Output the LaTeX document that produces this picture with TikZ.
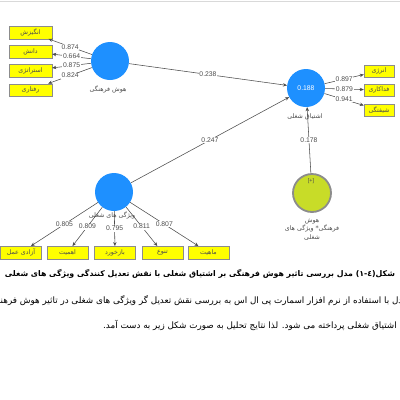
\documentclass[tikz,border=0pt]{standalone}
\usepackage{fontspec}
\setmainfont{Liberation Sans}
\newfontfamily\fafont[Script=Arabic]{DejaVu Sans}
\TeXXeTstate=1
\usetikzlibrary{arrows.meta}
\newcommand{\fa}[1]{{\fafont\beginR #1\endR}}
\definecolor{plsblue}{RGB}{30,144,255}
\definecolor{plsgreen}{RGB}{200,220,40}
\definecolor{plsyellow}{RGB}{255,255,0}
\tikzset{
  indbox/.style={rectangle,draw=black!45,fill=plsyellow,minimum width=41pt,
                 minimum height=12.5pt,inner sep=0pt,font=\fontsize{6.3}{7}\selectfont,text=black!70},
  latent/.style={circle,fill=plsblue,minimum size=38pt,inner sep=0pt},
  plsarrow/.style={draw=black!70,line width=0.55pt,-{Stealth[length=4pt,width=3.4pt]}},
  coef/.style={fill=white,inner sep=0.6pt,font=\fontsize{6.8}{7}\selectfont,text=black!70},
  lvlabel/.style={font=\fontsize{6.3}{8.5}\selectfont,text=black!70,align=center,inner sep=0pt}
}
\begin{document}
\begin{tikzpicture}[x=1pt,y=-1pt]
  \useasboundingbox (0,0) rectangle (400,400);
  \clip (0,0) rectangle (400,400);
  \fill[white] (0,0) rectangle (400,400);
  \draw[black!15,line width=1.5pt] (0,1.5) -- (400,1.5);

  % latent variables
  \node[latent] (cq) at (110,61) {};
  \node[lvlabel] (cqlab) at (108,89) {\fa{هوش فرهنگی}};
  \node[latent] (je) at (306,88) {};
  \node[font=\fontsize{6.8}{7}\selectfont,text=white] (jeval) at (je) {0.188};
  \node[lvlabel] (jelab) at (305,117) {\fa{اشتیاق شغلی}};
  \node[latent] (jc) at (114,192) {};
  \node[lvlabel] (jclab) at (112,215) {\fa{ویژگی های شغلی}};
  \node[circle,fill=plsgreen,draw=black!45,line width=1.8pt,minimum size=38pt,inner sep=0pt]
        (mod) at (312,193) {};
  \node[font=\fontsize{5.5}{5.5}\selectfont,text=black!70] (modsign) at (311,181) {[+]};
  \node[lvlabel] (modlab) at (312,229.5) {\fa{هوش}\\ \fa{فرهنگی* ویژگی های}\\ \fa{شغلی}};

  % indicators of cultural intelligence
  \node[indbox,minimum width=43pt] (cq1) at (30.5,32.5) {\fa{انگیزش}};
  \node[indbox,minimum width=43pt] (cq2) at (30.5,51.5) {\fa{دانش}};
  \node[indbox,minimum width=43pt] (cq3) at (30.5,70.5) {\fa{استراتژی}};
  \node[indbox,minimum width=43pt] (cq4) at (30.5,90)   {\fa{رفتاری}};
  % indicators of job engagement
  \node[indbox,minimum width=30pt] (je1) at (379,71)  {\fa{انرژی}};
  \node[indbox,minimum width=30pt] (je2) at (379,90)  {\fa{فداکاری}};
  \node[indbox,minimum width=30pt] (je3) at (379,110) {\fa{شیفتگی}};
  % indicators of job characteristics
  \node[indbox] (jc1) at (21,252.5)    {\fa{آزادی عمل}};
  \node[indbox] (jc2) at (67.5,252.5)  {\fa{اهمیت}};
  \node[indbox] (jc3) at (115,252.5)   {\fa{بازخورد}};
  \node[indbox] (jc4) at (162.5,252.5) {\fa{تنوع}};
  \node[indbox] (jc5) at (208.5,252.5) {\fa{ماهیت}};

  % outer loadings
  \draw[plsarrow] (cq) -- (cq1) node[coef,pos=0.5]{0.874};
  \draw[plsarrow] (cq) -- (cq2) node[coef,pos=0.5]{0.664};
  \draw[plsarrow] (cq) -- (cq3) node[coef,pos=0.5]{0.875};
  \draw[plsarrow] (cq) -- (cq4) node[coef,pos=0.5]{0.824};
  \draw[plsarrow] (je) -- (je1) node[coef,pos=0.5]{0.897};
  \draw[plsarrow] (je) -- (je2) node[coef,pos=0.5]{0.879};
  \draw[plsarrow] (je) -- (je3) node[coef,pos=0.5]{0.941};
  \draw[plsarrow] (jc) -- (jc1) node[coef,pos=0.5]{0.805};
  \draw[plsarrow] (jc) -- (jc2) node[coef,pos=0.5]{0.809};
  \draw[plsarrow] (jc) -- (jc3) node[coef,pos=0.5]{0.795};
  \draw[plsarrow] (jc) -- (jc4) node[coef,pos=0.5]{0.811};
  \draw[plsarrow] (jc) -- (jc5) node[coef,pos=0.5]{0.807};

  % path coefficients
  \draw[plsarrow] (cq) -- (je) node[coef,pos=0.5]{0.238};
  \draw[plsarrow] (jc) -- (je) node[coef,pos=0.5]{0.247};
  \draw[plsarrow] (mod) -- (je) node[coef,pos=0.5]{0.178};

  % caption and text
  \node (caption) at (200,273.5)
        {\resizebox{390pt}{!}{\fafont\bfseries\beginR شکل(٤-١) مدل بررسی تاثیر هوش فرهنگی بر اشتیاق شغلی با نقش تعدیل کنندگی ویژگی های شغلی\endR}};
  \node[anchor=east,inner sep=0pt,font=\fontsize{8.8}{10}\selectfont] (line1) at (408,301)
        {\fa{مدل با استفاده از نرم افزار اسمارت پی ال اس به بررسی نقش تعدیل گر ویژگی های شغلی در تاثیر هوش فرهنگی بر}};
  \node[anchor=east,inner sep=0pt,font=\fontsize{8.8}{10}\selectfont] (line2) at (397,325)
        {\fa{اشتیاق شغلی پرداخته می شود. لذا نتایج تحلیل به صورت شکل زیر به دست آمد.}};
\end{tikzpicture}
\end{document}
